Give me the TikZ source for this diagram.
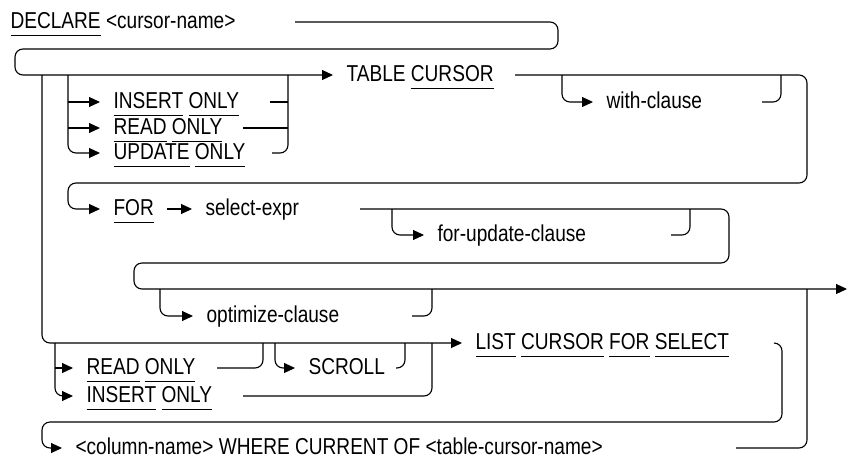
\documentclass[tikz,border=0pt]{standalone}
\usepackage{fontspec}
\setmainfont{Liberation Sans}[FakeStretch=0.83]
\usepackage{tikz}
\usetikzlibrary{arrows.meta}
\newcommand\kw[1]{\setbox0=\hbox{#1}\rlap{\rule[-8pt]{\wd0}{1.1pt}}\box0\relax}

\begin{document}
\begin{tikzpicture}[x=1pt, y=-1pt, line width=1.1pt, rounded corners=8pt,
    every node/.style={anchor=west, inner xsep=13pt, inner ysep=0pt, text height=12pt, text depth=0pt, font=\fontsize{23pt}{27pt}\selectfont},
    go/.style={-{Triangle[length=11pt, width=10pt]}}]
                \useasboundingbox[sharp corners] (0,0) rectangle (848,461);
                % keywords and clauses
                \node (dc) at (-3,22) {\kw{DECLARE} <cursor-name>};
                \node (tc) at (333,75) {TABLE \kw{CURSOR}};
                \node (wc) at (593,102) {with-clause};
                \node (io1) at (100,102) {\kw{INSERT} \kw{ONLY}};
                \node (ro1) at (100,128) {\kw{READ} \kw{ONLY}};
                \node (uo) at (100,153) {\kw{UPDATE} \kw{ONLY}};
                \node (fr) at (100,209) {\kw{FOR}};
                \node (se) at (192,209) {select-expr};
                \node (fu) at (424,235) {for-update-clause};
                \node (oc) at (193,316) {optimize-clause};
                \node (lc) at (462,343) {\kw{LIST} \kw{CURSOR} \kw{FOR} \kw{SELECT}};
                \node (ro2) at (73,368) {\kw{READ} \kw{ONLY}};
                \node (io2) at (73,396) {\kw{INSERT} \kw{ONLY}};
                \node (sc) at (295,368) {SCROLL};
                \node (cn) at (62,448) {<column-name> WHERE CURRENT OF <table-cursor-name>};
                % junctions and loose ends
                \coordinate (d1) at (295,22);
                \coordinate (ja) at (42,75);
                \coordinate (jb) at (68,75);
                \coordinate (jc) at (288,75);
                \coordinate (jd) at (562,75);
                \coordinate (je) at (781,75);
                \coordinate (t1) at (515,75);
                \coordinate (i1) at (270,102);
                \coordinate (r1) at (243,128);
                \coordinate (u1) at (272,153);
                \coordinate (w1) at (762,102);
                \coordinate (s1) at (360,209);
                \coordinate (jf) at (392,209);
                \coordinate (jg) at (690,209);
                \coordinate (f1) at (671,235);
                \coordinate (jh) at (160,289);
                \coordinate (ji) at (432,289);
                \coordinate (jj) at (807,289);
                \coordinate (ex) at (847,289);
                \coordinate (o1) at (412,316);
                \coordinate (jk) at (55,343);
                \coordinate (jl) at (263,343);
                \coordinate (jm) at (275,343);
                \coordinate (jn) at (405,343);
                \coordinate (jo) at (432,343);
                \coordinate (l1) at (774,343);
                \coordinate (r2) at (217,368);
                \coordinate (c1) at (396,368);
                \coordinate (i2) at (243,396);
                \coordinate (n1) at (736,448);
                % upper part
                \draw[go] (d1) -- (558,22) -- (558,49) -- (15,49) -- (15,75) -- (tc.west);
                \draw[go] (jd) -- (562,102) -- (wc.west);
                \draw (w1) -- (781,102) -- (je);
                \draw[go] (jb) -- (68,153) -- (uo.west);
                \draw[go] (jb |- io1.west) -- (io1.west);
                \draw[go] (jb |- ro1.west) -- (ro1.west);
                \draw (i1) -- (jc |- i1);
                \draw (r1) -- (jc |- r1);
                \draw (u1) -- (288,153) -- (jc);
                \draw[go] (t1) -- (807,75) -- (807,183) -- (68,183) -- (68,209) -- (fr.west);
                \draw[go] (fr.east) -- (se.west);
                \draw[go] (jf) -- (392,235) -- (fu.west);
                \draw (f1) -- (690,235) -- (jg);
                \draw[go] (s1) -- (729,209) -- (729,263) -- (134,263) -- (134,289) -- (ex);
                \draw[go] (jh) -- (160,316) -- (oc.west);
                \draw (o1) -- (432,316) -- (ji);
                % list cursor part
                \draw[go] (ja) -- (42,343) -- (lc.west);
                \draw[go] (jk) -- (55,396) -- (io2.west);
                \draw[go] (jk |- ro2.west) -- (ro2.west);
                \draw (r2) -- (263,368) -- (jl);
                \draw[go] (jm) -- (275,368) -- (sc.west);
                \draw (c1) -- (405,368) -- (jn);
                \draw (i2) -- (432,396) -- (jo);
                \draw[go] (l1) -- (782,343) -- (782,422) -- (42,422) -- (42,448) -- (cn.west);
                \draw (n1) -- (807,448) -- (jj);
            \end{tikzpicture}
\end{document}
